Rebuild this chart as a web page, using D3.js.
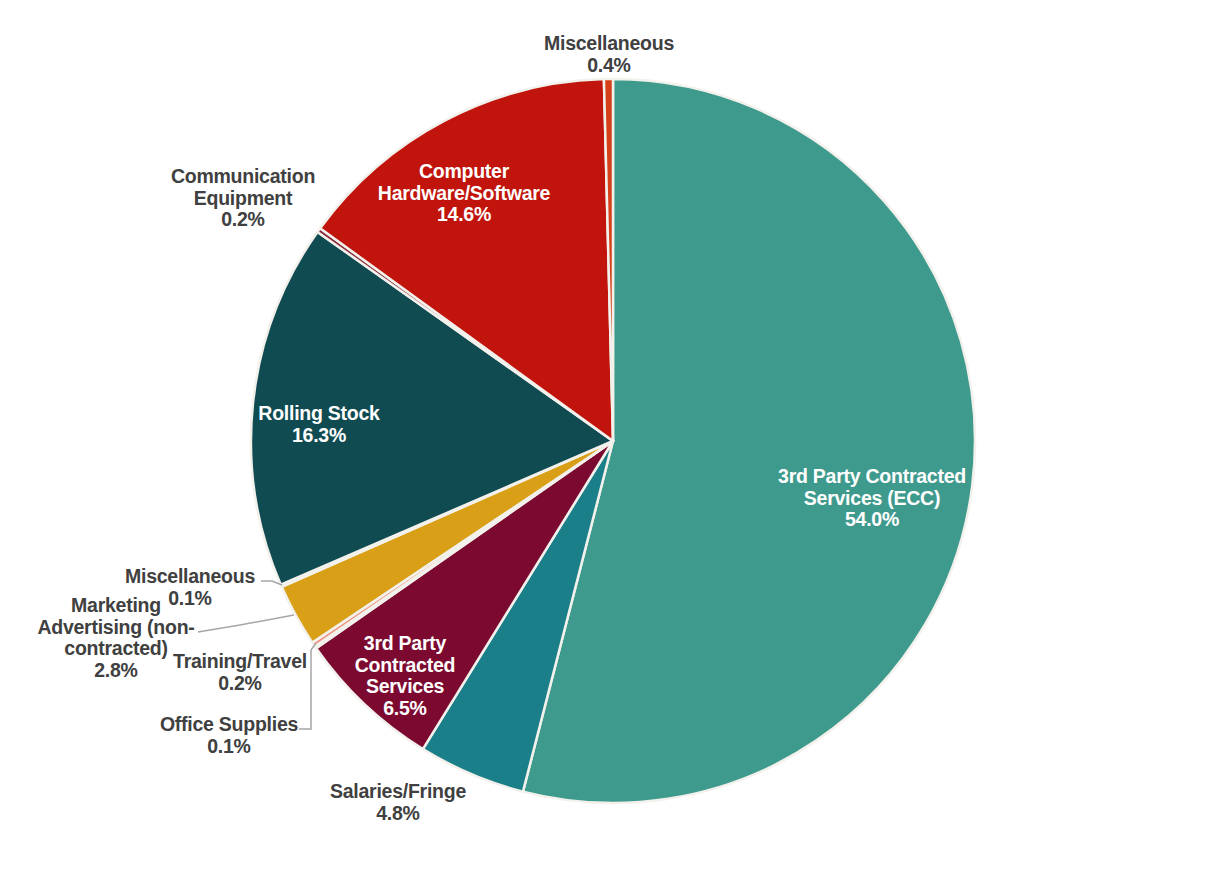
<!DOCTYPE html>
<html><head><meta charset="utf-8">
<script src="https://cdn.jsdelivr.net/npm/d3@7"></script>
<style>
html,body{margin:0;padding:0;background:#fff;}
text{font-family:"Liberation Sans",Arial,sans-serif;font-weight:bold;font-size:19.5px;letter-spacing:-0.25px;}
</style></head>
<body><svg id="chart" width="1226" height="883"></svg>
<script>
const categories = [
  "3rd Party Contracted Services (ECC)",
  "Salaries/Fringe",
  "3rd Party Contracted Services",
  "Office Supplies",
  "Training/Travel",
  "Marketing Advertising (non-contracted)",
  "Miscellaneous",
  "Rolling Stock",
  "Communication Equipment",
  "Computer Hardware/Software",
  "Miscellaneous"
];
const values = [54.0, 4.8, 6.5, 0.1, 0.2, 2.8, 0.1, 16.3, 0.2, 14.6, 0.4];
const colors = ["#3F9A8E","#1B7F8A","#7C0A30","#F5D5C8","#F0907A","#D9A017","#D9C9B0","#114B52","#8B2C3C","#C0140C","#D53F1A"];
// label lines (text content) per slice
const labelLines = [
  ["3rd Party Contracted","Services (ECC)","54.0%"],
  ["Salaries/Fringe","4.8%"],
  ["3rd Party","Contracted","Services","6.5%"],
  ["Office Supplies","0.1%"],
  ["Training/Travel","0.2%"],
  ["Marketing","Advertising (non-","contracted)","2.8%"],
  ["Miscellaneous","0.1%"],
  ["Rolling Stock","16.3%"],
  ["Communication","Equipment","0.2%"],
  ["Computer","Hardware/Software","14.6%"],
  ["Miscellaneous","0.4%"]
];
const inside = [true,false,true,false,false,false,false,true,false,true,false];

// layout (positions of label blocks: x center, y of first baseline)
const labelLayout = [
  [872,483],[398,798],[405,650],[229,731],[240,668],[116,612],[190,583],[319,420],[243,183],[464,178],[609,50]
];
const leaders = {
  6: [[261,581],[272,581],[282,585]],
  5: [[198,632],[240,625],[294,615]],
  3: [[299,729],[311,729],[311,650],[316,643]]
};

const svg = d3.select("#chart");
const cx = 613, cy = 441, R = 362;
const g = svg.append("g").attr("transform",`translate(${cx},${cy})`);
const pie = d3.pie().sort(null).value(d=>d)(values);
const arc = d3.arc().innerRadius(0).outerRadius(R);
g.selectAll("path.slice").data(pie).enter().append("path")
  .attr("class","slice")
  .attr("d",arc)
  .attr("fill",(d,i)=>colors[i])
  .attr("stroke","#F3F1EC").attr("stroke-width",2.5).attr("stroke-linejoin","round");

const line = d3.line();
Object.entries(leaders).forEach(([k,pts])=>{
  svg.append("path").attr("d",line(pts)).attr("fill","none").attr("stroke","#A6A6A6").attr("stroke-width",1.5);
});

labelLines.forEach((lines,i)=>{
  const [x,y] = labelLayout[i];
  const t = svg.append("text").attr("text-anchor","middle")
    .attr("fill", inside[i] ? "#ffffff" : "#404040");
  lines.forEach((ln,j)=>{
    t.append("tspan").attr("x",x).attr("y",y + j*21.5).text(ln);
  });
});
</script></body></html>
